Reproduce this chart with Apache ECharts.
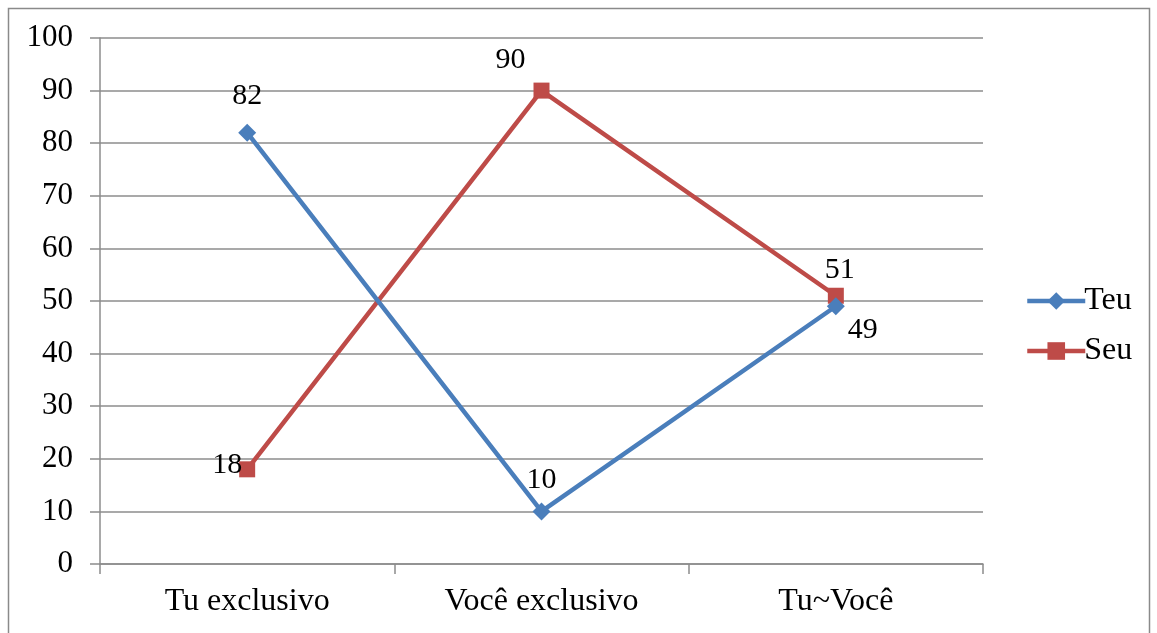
<!DOCTYPE html>
<html>
<head>
<meta charset="utf-8">
<script src="https://cdn.jsdelivr.net/npm/echarts@6/dist/echarts.min.js"></script>
<style>
  html, body { margin: 0; padding: 0; background: #fff; }
  #chart { width: 1157px; height: 633px; }
</style>
</head>
<body>
<div id="chart"></div>
<script>
// Categories and series values
const categories = ['Tu exclusivo', 'Você exclusivo', 'Tu~Você'];
const teuValues = [82, 10, 49];
const seuValues = [18, 90, 51];
const yTicks = { min: 0, max: 100, interval: 10 };

const FONT = '"Liberation Serif", "Times New Roman", serif';
const FONT_SIZE = 30;
const GRID_COLOR = '#8c8c8c';

// Per-point label placement for each series
const teuLabelPos = [
  { position: 'top', offset: [0, -8] },
  { position: 'top', offset: [0, -2] },
  { position: 'bottom', offset: [27, -5] }
];
const seuLabelPos = [
  { position: 'left', offset: [8, -4] },
  { position: 'top', offset: [-31, -2] },
  { position: 'top', offset: [4, 2] }
];

function buildData(values, positions) {
  return values.map((v, i) => ({ value: v, label: positions[i] }));
}

const chart = echarts.init(document.getElementById('chart'), null, { renderer: 'canvas' });

chart.setOption({
  animation: false,
  backgroundColor: '#fff',
  textStyle: { fontFamily: FONT },
  graphic: [{
    type: 'rect',
    shape: { x: 8.5, y: 8.5, width: 1141, height: 640 },
    style: { fill: 'none', stroke: '#8a8a8a', lineWidth: 1.5 },
    silent: true
  }],
  grid: { left: 100, right: 174, top: 38, bottom: 69, containLabel: false },
  legend: {
    orient: 'vertical',
    left: 1020,
    top: 280,
    itemWidth: 58,
    itemHeight: 22,
    itemGap: 18,
    lineStyle: { width: 4.5 },
    textStyle: { fontFamily: FONT, fontSize: 32, color: '#000', padding: [0, 0, 0, -6] },
    data: ['Teu', 'Seu']
  },
  xAxis: {
    type: 'category',
    data: categories,
    boundaryGap: true,
    axisLine: { show: true, lineStyle: { color: GRID_COLOR, width: 1.5 } },
    axisTick: { show: true, length: 10, lineStyle: { color: GRID_COLOR, width: 1.5 } },
    axisLabel: { color: '#000', fontFamily: FONT, fontSize: 32, margin: 22 },
    splitLine: { show: false }
  },
  yAxis: {
    type: 'value',
    min: yTicks.min,
    max: yTicks.max,
    interval: yTicks.interval,
    axisLine: { show: true, lineStyle: { color: GRID_COLOR, width: 1.5 } },
    axisTick: { show: true, length: 10, lineStyle: { color: GRID_COLOR, width: 1.5 } },
    axisLabel: { color: '#000', fontFamily: FONT, fontSize: 31, margin: 27 },
    splitLine: { show: true, lineStyle: { color: GRID_COLOR, width: 1.5 } }
  },
  series: [
    {
      name: 'Teu',
      type: 'line',
      data: buildData(teuValues, teuLabelPos),
      symbol: 'diamond',
      symbolSize: 18,
      color: '#4a7ebb',
      lineStyle: { width: 4.5, color: '#4a7ebb' },
      itemStyle: { color: '#4a7ebb' },
      label: { show: true, color: '#000', fontFamily: FONT, fontSize: FONT_SIZE },
      z: 3
    },
    {
      name: 'Seu',
      type: 'line',
      data: buildData(seuValues, seuLabelPos),
      symbol: 'rect',
      symbolSize: 16,
      color: '#be4b48',
      lineStyle: { width: 4.5, color: '#be4b48' },
      itemStyle: { color: '#be4b48' },
      label: { show: true, color: '#000', fontFamily: FONT, fontSize: FONT_SIZE },
      z: 2
    }
  ]
});
</script>
</body>
</html>
